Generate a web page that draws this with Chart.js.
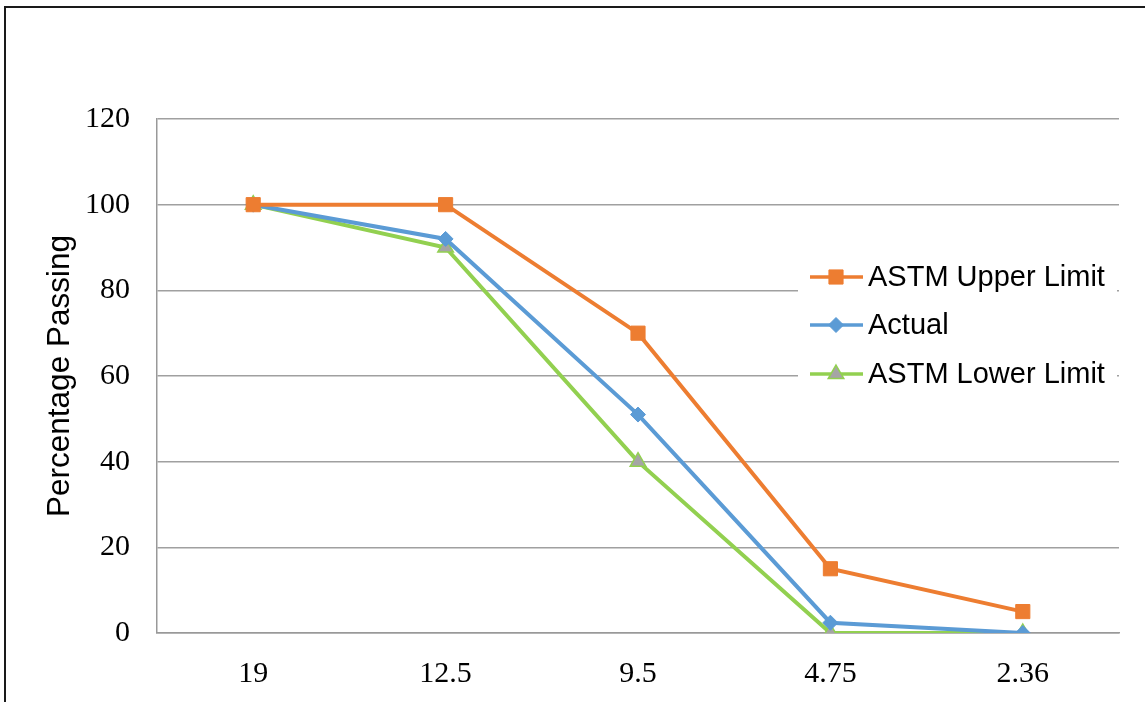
<!DOCTYPE html>
<html>
<head>
<meta charset="utf-8">
<script src="https://cdn.jsdelivr.net/npm/chart.js@4.4.1/dist/chart.umd.min.js"></script>
<style>
  html, body { margin: 0; padding: 0; background: #fff; }
  #wrap { position: relative; width: 1145px; height: 702px; overflow: hidden; }
  #frame { position: absolute; left: 4px; top: 6px; width: 1150px; height: 710px;
           border-left: 2px solid #1a1a1a; border-top: 2px solid #1a1a1a; box-sizing: border-box; }
  canvas { position: absolute; left: 0; top: 0; }
</style>
</head>
<body>
<div id="wrap">
  <div id="frame"></div>
  <canvas id="c" width="1145" height="702"></canvas>
</div>
<script>
// Sieve sizes (mm) and percentage passing for each gradation curve
const sieveSizes = ['19', '12.5', '9.5', '4.75', '2.36'];
const upperLimit = [100, 100, 70, 15, 5];
const actual = [100, 92, 51, 2.4, 0];
const lowerLimit = [100, 90, 40, 0, 0];
const yTicks = [0, 20, 40, 60, 80, 100, 120];

const ORANGE = '#ED7D31';
const BLUE = '#5B9BD5';
const GREEN = '#92D050';
const GREY = '#A5A5A5';

// Legend drawn inside the plot area on a white box
const insideLegend = {
  id: 'insideLegend',
  afterDatasetsDraw(chart) {
    const ctx = chart.ctx;
    const x0 = 798, y0 = 255, w = 319, h = 142;
    ctx.save();
    ctx.fillStyle = '#fff';
    ctx.fillRect(x0, y0, w, h);
    const rows = [277, 325, 374];
    chart.data.datasets.forEach((ds, i) => {
      const y = rows[i];
      ctx.strokeStyle = ds.borderColor;
      ctx.lineWidth = 3.5;
      ctx.beginPath();
      ctx.moveTo(810, y);
      ctx.lineTo(863, y);
      ctx.stroke();
      ctx.fillStyle = ds.pointBackgroundColor;
      ctx.strokeStyle = ds.pointBorderColor;
      ctx.lineWidth = ds.pointBorderWidth;
      Chart.helpers.drawPoint(ctx, {
        pointStyle: ds.pointStyle,
        radius: ds.pointRadius,
        borderWidth: ds.pointBorderWidth,
        rotation: 0
      }, 836, y);
      ctx.fillStyle = '#000';
      ctx.font = '29px "Liberation Sans", Arial, sans-serif';
      ctx.textBaseline = 'middle';
      ctx.textAlign = 'left';
      ctx.fillText(ds.label, 868, y + 1);
    });
    ctx.restore();
  }
};

new Chart(document.getElementById('c'), {
  type: 'line',
  data: {
    labels: sieveSizes,
    datasets: [
      {
        label: 'ASTM Upper Limit',
        data: upperLimit,
        borderColor: ORANGE,
        backgroundColor: ORANGE,
        pointBackgroundColor: ORANGE,
        pointBorderColor: ORANGE,
        pointStyle: 'rect',
        pointRadius: 10,
        pointBorderWidth: 1,
        borderWidth: 4,
        tension: 0
      },
      {
        label: 'Actual',
        data: actual,
        borderColor: BLUE,
        backgroundColor: BLUE,
        pointBackgroundColor: BLUE,
        pointBorderColor: BLUE,
        pointStyle: 'rectRot',
        pointRadius: 7.5,
        pointBorderWidth: 1,
        borderWidth: 4,
        tension: 0
      },
      {
        label: 'ASTM Lower Limit',
        data: lowerLimit,
        borderColor: GREEN,
        backgroundColor: GREY,
        pointBackgroundColor: GREY,
        pointBorderColor: GREEN,
        pointStyle: 'triangle',
        pointRadius: 9,
        pointBorderWidth: 1.5,
        borderWidth: 4,
        tension: 0
      }
    ]
  },
  options: {
    responsive: false,
    animation: false,
    devicePixelRatio: 1,
    layout: { padding: { left: 41, top: 119, right: 26, bottom: 0 } },
    plugins: {
      legend: { display: false },
      tooltip: { enabled: false }
    },
    scales: {
      x: {
        type: 'category',
        offset: true,
        grid: { display: false, drawTicks: false },
        border: { display: true, color: '#999', width: 1.5 },
        ticks: {
          color: '#000',
          padding: 23,
          font: { family: '"Liberation Serif", "Times New Roman", serif', size: 30 }
        },
        afterFit(s) { s.height = 69; }
      },
      y: {
        min: 0,
        max: 120,
        afterBuildTicks(s) { s.ticks = yTicks.map(v => ({ value: v })); },
        grid: { color: '#A0A0A0', lineWidth: 1.5, drawTicks: false },
        border: { display: true, color: '#999', width: 1.5 },
        ticks: {
          color: '#000',
          padding: 27,
          font: { family: '"Liberation Serif", "Times New Roman", serif', size: 30 }
        },
        title: {
          display: true,
          text: 'Percentage Passing',
          color: '#000',
          padding: { top: 0, bottom: 0 },
          font: { family: '"Liberation Sans", Arial, sans-serif', size: 31.5, weight: 'normal' }
        },
        afterFit(s) { s.width = 116; }
      }
    }
  },
  plugins: [insideLegend]
});
</script>
</body>
</html>
